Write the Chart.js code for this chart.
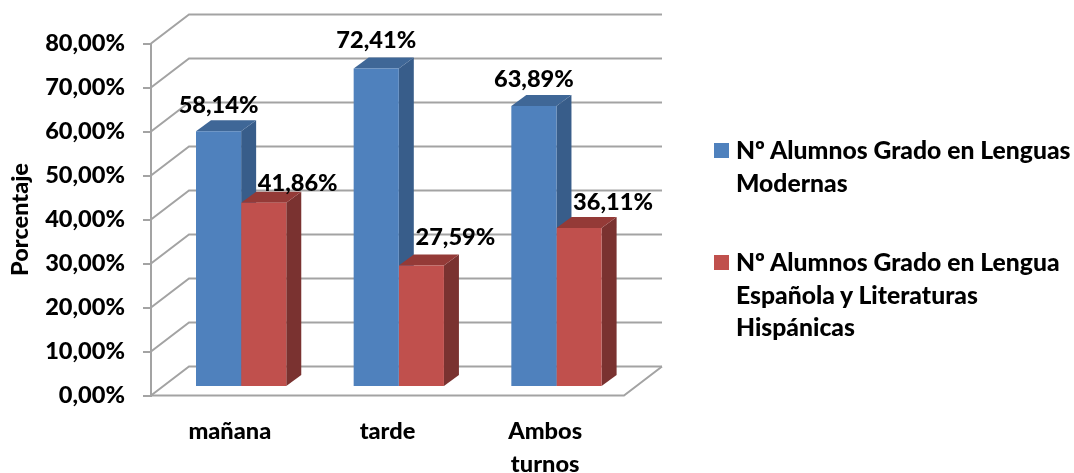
<!DOCTYPE html>
<html>
<head>
<meta charset="utf-8">
<style>
    html, body { margin: 0; padding: 0; background: #fff; }
    #wrap { position: relative; width: 1074px; height: 473px; overflow: hidden; }
    .legend-item { position: absolute; left: 714px; font: 900 24.7px Lato, sans-serif; line-height: 32.7px; color: #000; white-space: nowrap; }
    .legend-item i { position: absolute; left: 0; top: 9px; width: 15px; height: 15px; }
    .legend-item span { display: block; margin-left: 22px; }
</style>
<script src="https://cdn.jsdelivr.net/npm/chart.js@4/dist/chart.umd.min.js"></script>
</head>
<body>
<div id="wrap">
    <canvas id="chart" width="1074" height="473"></canvas>
</div>
<script>
var categories = ["mañana", "tarde", ["Ambos", "turnos"]];
var modernas = [58.14, 72.41, 63.89];
var hispanicas = [41.86, 27.59, 36.11];
var modernasLabel = ["Nº Alumnos Grado en Lenguas", "Modernas"];
var hispanicasLabel = ["Nº Alumnos Grado en Lengua", "Española y Literaturas", "Hispánicas"];

var labelFont = "900 23.6px Lato, sans-serif";
var gridColor = "#a3a3a3";

function pct(v) {
    return v.toFixed(2).replace(".", ",") + "%";
}

function poly(ctx, color, pts) {
    ctx.fillStyle = color;
    ctx.beginPath();
    ctx.moveTo(pts[0][0], pts[0][1]);
    for (var i = 1; i < pts.length; i++) ctx.lineTo(pts[i][0], pts[i][1]);
    ctx.closePath();
    ctx.fill();
}

// Chart.js has no 3D bars, so the walls and bar sides are added around its own bars
var fake3d = {
    id: "fake3d",
    beforeDatasetsDraw: function(chart, args, opts) {
        var ctx = chart.ctx, a = chart.chartArea, y = chart.scales.y;
        ctx.save();
        ctx.strokeStyle = gridColor;
        ctx.lineWidth = 2;
        y.ticks.forEach(function(t) {
            var py = y.getPixelForValue(t.value);
            ctx.beginPath();
            ctx.moveTo(a.left, py);
            ctx.lineTo(a.left + opts.wallX, py + opts.wallY);
            ctx.lineTo(a.right + opts.wallX, py + opts.wallY);
            ctx.stroke();
        });
        // floor front and right edge
        ctx.beginPath();
        ctx.moveTo(a.left, a.bottom);
        ctx.lineTo(a.right, a.bottom);
        ctx.lineTo(a.right + opts.wallX, a.bottom + opts.wallY);
        ctx.stroke();

        ctx.translate(opts.planeX, opts.planeY);
        chart.data.datasets.forEach(function(ds, i) {
            chart.getDatasetMeta(i).data.forEach(function(bar) {
                var l = bar.x - bar.width / 2, r = bar.x + bar.width / 2;
                var dx = opts.depthX, dy = opts.depthY;
                poly(ctx, ds.sideColor, [[r, bar.y], [r + dx, bar.y + dy], [r + dx, bar.base + dy], [r, bar.base]]);
                poly(ctx, ds.topColor, [[l, bar.y], [l + dx, bar.y + dy], [r + dx, bar.y + dy], [r, bar.y]]);
            });
        });
        ctx.restore();
        ctx.save();
        ctx.translate(opts.planeX, opts.planeY);
    },
    afterDatasetsDraw: function(chart, args, opts) {
        var ctx = chart.ctx;
        ctx.restore();
        ctx.save();
        ctx.font = labelFont;
        ctx.fillStyle = "#000";
        ctx.textAlign = "center";
        ctx.textBaseline = "middle";
        chart.data.datasets.forEach(function(ds, i) {
            chart.getDatasetMeta(i).data.forEach(function(bar, j) {
                ctx.fillText(pct(ds.data[j]),
                    bar.x + opts.planeX + opts.labelX[i],
                    bar.y + opts.planeY + opts.labelY[i][j]);
            });
        });
        ctx.restore();
    }
};

new Chart(document.getElementById("chart").getContext("2d"), {
    type: "bar",
    data: {
        labels: categories,
        datasets: [
            { label: modernasLabel, data: modernas, backgroundColor: "#4f81bd", sideColor: "#385d8a", topColor: "#3f6797", clip: false },
            { label: hispanicasLabel, data: hispanicas, backgroundColor: "#c0504d", sideColor: "#7a3230", topColor: "#943a37", clip: false }
        ]
    },
    options: {
        responsive: false,
        animation: false,
        layout: { padding: { top: 43.5, right: 450, left: 0, bottom: 0 } },
        datasets: { bar: { categoryPercentage: 0.5725, barPercentage: 1, borderWidth: 0 } },
        scales: {
            x: {
                grid: { display: false },
                border: { display: false },
                ticks: { color: "#000", font: { family: "Lato", weight: "900", size: 23.6, lineHeight: 1.4 }, padding: 11, maxRotation: 0, autoSkip: false },
                afterFit: function(s) { s.height = 77.5; }
            },
            y: {
                min: 0,
                max: 80,
                ticks: {
                    stepSize: 10,
                    color: "#000",
                    font: { family: "Lato", weight: "900", size: 23.6 },
                    padding: 18,
                    callback: function(v) { return pct(v); }
                },
                grid: { drawOnChartArea: false, color: gridColor, lineWidth: 2, tickLength: 8 },
                border: { color: gridColor, width: 2 },
                title: { display: true, text: "Porcentaje", color: "#000", font: { family: "Lato", weight: "900", size: 23.5 }, padding: { top: 6, bottom: 0 } },
                afterFit: function(s) { s.width = 151; }
            }
        },
        plugins: {
            legend: { display: false },
            tooltip: { enabled: false },
            fake3d: {
                wallX: 38, wallY: -29,
                planeX: 11.3, planeY: -8.5,
                depthX: 15, depthY: -11,
                labelX: [0, 34],
                labelY: [[-26, -28, -26], [-19, -28, -26]]
            }
        }
    },
    plugins: [fake3d]
});

// legend as html, the built in one cannot sit this far from the plot
function addLegend(lines, color, top) {
    var item = document.createElement("div");
    item.className = "legend-item";
    item.style.top = top + "px";
    var box = document.createElement("i");
    box.style.background = color;
    item.appendChild(box);
    lines.forEach(function(line) {
        var s = document.createElement("span");
        s.textContent = line;
        item.appendChild(s);
    });
    document.getElementById("wrap").appendChild(item);
}
addLegend(modernasLabel, "#4f81bd", 134);
addLegend(hispanicasLabel, "#c0504d", 246);
</script>
</body>
</html>
